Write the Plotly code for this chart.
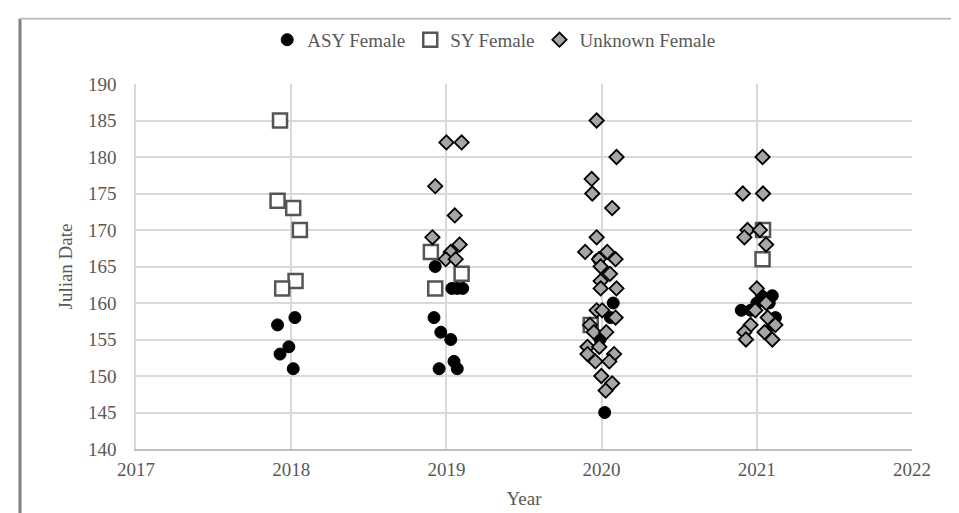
import plotly.graph_objects as go

# ASY Female (jittered year, Julian date)
asy_x = [2018.024, 2017.912, 2017.985, 2017.928, 2018.013,
         2018.928, 2019.035, 2019.070, 2019.105, 2018.920, 2018.964, 2019.028, 2019.049, 2018.953, 2019.070,
         2019.980, 2020.075, 2020.057, 2019.930, 2019.990, 2020.020,
         2020.900, 2021.030, 2021.100, 2021.080, 2021.000, 2020.960, 2021.120, 2021.100]
asy_y = [158, 157, 154, 153, 151,
         165, 162, 162, 162, 158, 156, 155, 152, 151, 151,
         166, 160, 158, 157, 155, 145,
         159, 161, 161, 160, 160, 159, 158, 157]

# SY Female
sy_x = [2017.928, 2017.912, 2018.013, 2018.056, 2018.028, 2017.942,
        2018.900, 2019.098, 2018.928,
        2019.930,
        2021.040, 2021.037]
sy_y = [185, 174, 173, 170, 163, 162,
        167, 164, 162,
        157,
        170, 166]

# Unknown Female
unk_x = [2019.000, 2019.098, 2018.928, 2019.054, 2018.910, 2019.085, 2019.028, 2018.996, 2019.060,
         2019.968, 2020.096, 2019.936, 2019.940, 2020.068, 2019.968, 2019.894, 2020.036, 2019.983, 2020.090,
         2019.994, 2020.054, 2019.994, 2019.994, 2020.096, 2019.968, 2020.004, 2020.090, 2019.925,
         2019.950, 2020.030, 2019.909, 2019.985, 2019.909, 2020.080, 2019.960, 2020.050, 2019.998, 2020.068, 2020.026,
         2021.037, 2020.910, 2021.040, 2020.940, 2021.020, 2020.920, 2021.060, 2021.000, 2021.060, 2020.990,
         2021.070, 2020.960, 2021.050, 2021.120, 2020.920, 2020.930, 2021.100]
unk_y = [182, 182, 176, 172, 169, 168, 167, 166, 166,
         185, 180, 177, 175, 173, 169, 167, 167, 166, 166,
         165, 164, 163, 162, 162, 159, 159, 158, 157,
         156, 156, 154, 154, 153, 153, 152, 152, 150, 149, 148,
         180, 175, 175, 170, 170, 169, 168, 162, 160, 159,
         158, 157, 156, 157, 156, 155, 155]

x_ticks = [2017, 2018, 2019, 2020, 2021, 2022]
y_ticks = [140, 145, 150, 155, 160, 165, 170, 175, 180, 185, 190]

FONT = "Liberation Serif"
GREY = "#595959"

fig = go.Figure()
fig.add_trace(go.Scatter(
    x=asy_x, y=asy_y, mode="markers", name="ASY Female",
    marker=dict(symbol="circle", size=12, color="black", line=dict(color="black", width=1))))
fig.add_trace(go.Scatter(
    x=sy_x, y=sy_y, mode="markers", name="SY Female",
    marker=dict(symbol="square", size=14, color="white", line=dict(color="#555555", width=2.5))))
fig.add_trace(go.Scatter(
    x=unk_x, y=unk_y, mode="markers", name="Unknown Female",
    marker=dict(symbol="diamond", size=11, color="#a6a6a6", line=dict(color="black", width=1.8))))

fig.update_layout(
    width=959, height=513,
    margin=dict(l=128, r=55, t=76, b=72),
    paper_bgcolor="white", plot_bgcolor="white",
    font=dict(family=FONT, size=19, color=GREY),
    showlegend=True,
    legend=dict(orientation="h", x=0.461, xanchor="center", y=1.121, yanchor="middle",
                font=dict(family=FONT, size=19, color=GREY), itemwidth=30,
                bgcolor="rgba(0,0,0,0)"),
    xaxis=dict(range=[2017, 2022], tickvals=x_ticks, ticktext=[str(v) for v in x_ticks],
               showgrid=True, gridcolor="#d9d9d9", gridwidth=1.5,
               showline=True, linecolor="#bfbfbf", linewidth=1.5,
               ticks="outside", ticklen=2, tickcolor="rgba(0,0,0,0)",
               zeroline=False,
               title=dict(text="Year", font=dict(family=FONT, size=19, color=GREY), standoff=13)),
    yaxis=dict(range=[140, 190], tickvals=y_ticks,
               showgrid=True, gridcolor="#d9d9d9", gridwidth=1.5,
               showline=True, linecolor="#d9d9d9", linewidth=1.5,
               ticks="outside", ticklen=14, tickcolor="rgba(0,0,0,0)",
               zeroline=False,
               title=dict(text="Julian Date", font=dict(family=FONT, size=19, color=GREY), standoff=10)),
)

# chart frame (paper-relative coordinates)
fig.add_shape(type="line", xref="paper", yref="paper", x0=-0.1495, x1=-0.1495, y0=-0.2, y1=1.179,
              line=dict(color="#808080", width=3))
fig.add_shape(type="line", xref="paper", yref="paper", x0=-0.1495, x1=1.0528, y0=1.179, y1=1.179,
              line=dict(color="#bfbfbf", width=2))
fig.add_shape(type="line", xref="paper", yref="paper", x0=1.0528, x1=1.0528, y0=-0.2, y1=1.179,
              line=dict(color="#808080", width=2))

fig.write_html("out.html")
